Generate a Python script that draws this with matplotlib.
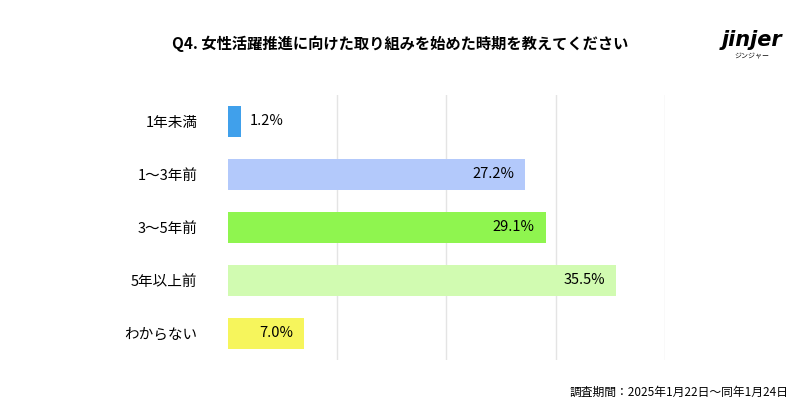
import matplotlib.pyplot as plt

plt.rcParams['font.family'] = 'Noto Sans CJK JP'

categories = ['1年未満', '1〜3年前', '3〜5年前', '5年以上前', 'わからない']
values = [1.2, 27.2, 29.1, 35.5, 7.0]
colors = ['#40a0eb', '#b3c9fb', '#8ff54f', '#d1fbb1', '#f6f55c']
title = 'Q4. 女性活躍推進に向けた取り組みを始めた時期を教えてください'
note = '調査期間：2025年1月22日〜同年1月24日'

fig = plt.figure(figsize=(8, 4.2), dpi=100)
ax = fig.add_axes([0.285, 0.143, 0.546, 0.631])
y = list(range(len(categories)))
ax.barh(y, values, height=0.58, color=colors, zorder=2)
ax.set_ylim(len(categories) - 0.5, -0.5)
ax.set_xlim(0, 40)
ax.set_xticks([10, 20, 30, 40])
ax.grid(axis='x', color='#e4e4e4', lw=1, zorder=0)
ax.tick_params(length=0, labelbottom=False)
ax.set_yticks(y)
ax.set_yticklabels(categories, fontsize=10.5)
ax.tick_params(axis='y', pad=22)
for s in ax.spines.values():
    s.set_visible(False)
for i, v in enumerate(values):
    if v < 5:
        ax.text(v + 0.8, i, f'{v:.1f}%', va='center', ha='left', fontsize=10.5)
    else:
        ax.text(v - 1, i, f'{v:.1f}%', va='center', ha='right', fontsize=10.5)

fig.text(0.5, 0.895, title, ha='center', va='center', fontsize=11, fontweight='bold')
fig.text(0.94, 0.905, 'jinjer', ha='center', va='center', fontsize=15,
         fontweight='bold', style='italic', family='DejaVu Sans')
fig.text(0.94, 0.865, 'ジンジャー', ha='center', va='center', fontsize=5)
fig.text(0.985, 0.065, note, ha='right', va='center', fontsize=8.5)
fig.savefig('out.png', dpi=100)
